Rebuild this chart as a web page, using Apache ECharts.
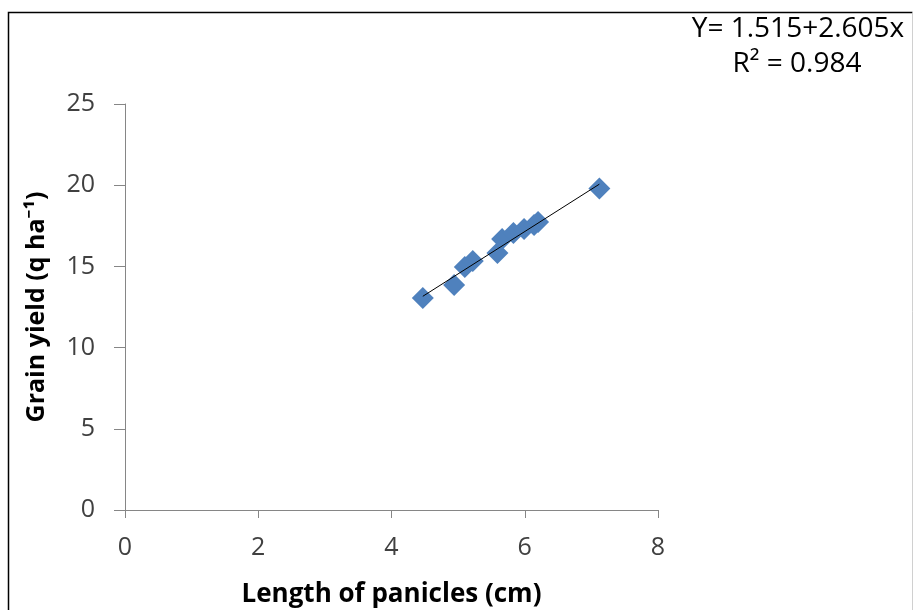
<!DOCTYPE html>
<html>
<head>
<meta charset="utf-8">
<script src="https://cdn.jsdelivr.net/npm/echarts@6/dist/echarts.min.js"></script>
<style>html,body{margin:0;padding:0;background:#fff;}#c{width:914px;height:610px;}</style>
</head>
<body>
<div id="c"></div>
<script>
const xValues = [4.47, 4.94, 5.10, 5.22, 5.59, 5.66, 5.83, 5.99, 6.14, 6.20, 7.12];
const yValues = [13.05, 13.85, 14.96, 15.33, 15.83, 16.69, 17.06, 17.30, 17.55, 17.73, 19.80];
const intercept = 1.515;
const slope = 2.605;
const xTicks = [0, 2, 4, 6, 8];
const yTicks = [0, 5, 10, 15, 20, 25];

const points = xValues.map((x, i) => [x, yValues[i]]);
const xMin = Math.min(...xValues), xMax = Math.max(...xValues);
const trend = [[xMin, intercept + slope * xMin], [xMax, intercept + slope * xMax]];

const chart = echarts.init(document.getElementById('c'));
const font = '"Open Sans", "Noto Sans", sans-serif';
chart.setOption({
  animation: false,
  backgroundColor: '#fff',
  grid: { left: 125, right: 256, top: 104, bottom: 100, containLabel: false, outerBoundsMode: 'none' },
  xAxis: {
    type: 'value', min: xTicks[0], max: xTicks[xTicks.length - 1], interval: xTicks[1] - xTicks[0],
    splitLine: { show: false },
    axisLine: { onZero: false, lineStyle: { color: '#868686', width: 1 } },
    axisTick: { show: true, length: 8, lineStyle: { color: '#868686' } },
    axisLabel: { color: '#404040', fontSize: 25, fontFamily: font, margin: 25 },
    name: 'Length of panicles (cm)', nameLocation: 'middle', nameGap: 72,
    nameTextStyle: { color: '#000', fontSize: 26, fontWeight: 'bold', fontFamily: font }
  },
  yAxis: {
    type: 'value', min: yTicks[0], max: yTicks[yTicks.length - 1], interval: yTicks[1] - yTicks[0],
    splitLine: { show: false },
    axisLine: { show: true, lineStyle: { color: '#868686', width: 1 } },
    axisTick: { show: true, length: 11, lineStyle: { color: '#868686' } },
    axisLabel: { color: '#404040', fontSize: 25, fontFamily: font, margin: 30 },
    name: 'Grain yield (q ha⁻¹)', nameLocation: 'middle', nameGap: 76,
    nameTextStyle: { color: '#000', fontSize: 25, fontWeight: 'bold', fontFamily: font }
  },
  graphic: [
    { type: 'polyline', shape: { points: [[8.5, 612], [8.5, 12.5], [912.5, 12.5]] },
      style: { stroke: '#000', lineWidth: 1.5, fill: null } },
    { type: 'line', shape: { x1: 912.5, y1: 12.5, x2: 912.5, y2: 610 },
      style: { stroke: '#d0d0d0', lineWidth: 1 } },
    { type: 'text', style: { text: 'Y= 1.515+2.605x', x: 798, y: 29, align: 'center', verticalAlign: 'middle', fill: '#000', font: '28px ' + font } },
    { type: 'text', style: { text: 'R² = 0.984', x: 797, y: 64, align: 'center', verticalAlign: 'middle', fill: '#000', font: '28px ' + font } }
  ],
  series: [
    {
      type: 'scatter', data: points, symbol: 'diamond', symbolSize: 22,
      itemStyle: { color: '#4f81bd', opacity: 1 }, z: 2
    },
    {
      type: 'line', data: trend, symbol: 'none',
      lineStyle: { color: '#000', width: 1 }, z: 3
    }
  ]
});
</script>
</body>
</html>
